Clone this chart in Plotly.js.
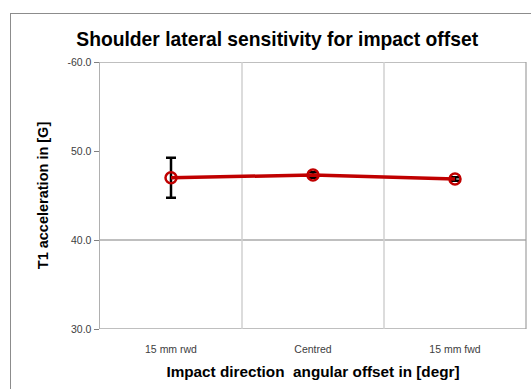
<!DOCTYPE html>
<html><head><meta charset="utf-8">
<script src="https://cdn.plot.ly/plotly-3.0.1.min.js"></script>
<style>
html,body{margin:0;padding:0;background:#fff;overflow:hidden;}
#wrap{position:relative;width:531px;height:389px;}
#chart{position:absolute;left:0;top:0;width:531px;height:389px;}
#frame{position:absolute;left:10px;top:13px;width:540px;height:400px;border:1.5px solid #8c8c8c;pointer-events:none;}
</style></head>
<body>
<div id="wrap"><div id="chart"></div><div id="frame"></div></div>
<script>
const categories = ["15 mm rwd", "Centred", "15 mm fwd"];
const values = [47.0, 47.3, 46.85];
const errors = [2.25, 0.3, 0.2];
const yTickVals = [30, 40, 50, 60];
const yTickText = ["30.0", "40.0", "50.0", "-60.0"];

const xIdx = categories.map((c, i) => i);
const trace = {
  x: xIdx, y: values, type: 'scatter', mode: 'lines+markers',
  line: {color: '#C00000', width: 3.5},
  marker: {symbol: 'circle-open', size: 11, color: '#C00000', line: {width: 2.5, color: '#C00000'}},
  error_y: {type: 'data', array: errors, visible: true, color: '#000000', thickness: 2.5, width: 5},
  hoverinfo: 'none', showlegend: false
};
const tickFont = {family: 'Liberation Sans, Arial, sans-serif', size: 10.5, color: '#404040'};
const layout = {
  width: 531, height: 389,
  margin: {l: 100, r: 5, t: 62, b: 60},
  paper_bgcolor: 'rgba(0,0,0,0)', plot_bgcolor: '#fff',
  title: {text: '<b>Shoulder lateral sensitivity for impact offset</b>', x: 0.522, xanchor: 'center', y: 0.9, yanchor: 'middle',
          font: {family: 'Liberation Sans, Arial, sans-serif', size: 19.3, color: '#000'}},
  xaxis: {range: [-0.5, 2.5], tickvals: xIdx, ticktext: categories, showgrid: false, zeroline: false,
          showline: false, ticks: 'outside', ticklen: 10, tickcolor: 'rgba(0,0,0,0)', tickfont: tickFont, fixedrange: true,
          title: {text: '<b>Impact direction  angular offset in [degr]</b>', standoff: 12,
                  font: {family: 'Liberation Sans, Arial, sans-serif', size: 15.3, color: '#000'}}},
  yaxis: {range: [30, 60], tickvals: yTickVals, ticktext: yTickText, showgrid: false, zeroline: false,
          showline: true, linecolor: '#b0b0b0', linewidth: 1.5, ticks: 'outside', ticklen: 5, tickcolor: '#808080',
          tickfont: tickFont, fixedrange: true,
          title: {text: '<b>T1 acceleration in [G]</b>', standoff: 15,
                  font: {family: 'Liberation Sans, Arial, sans-serif', size: 14.5, color: '#000'}}},
  shapes: [
    {type: 'line', xref: 'paper', yref: 'y', x0: 0, x1: 1, y0: 40, y1: 40, line: {color: '#808080', width: 1.2}, layer: 'below'},
    {type: 'line', xref: 'paper', yref: 'y', x0: 0, x1: 1, y0: 60, y1: 60, line: {color: '#808080', width: 1.2}, layer: 'below'},
    {type: 'line', xref: 'paper', yref: 'y', x0: 0, x1: 1, y0: 30, y1: 30, line: {color: '#808080', width: 1.2}, layer: 'below'},
    {type: 'line', xref: 'paper', yref: 'paper', x0: 1, x1: 1, y0: 0, y1: 1, line: {color: '#a0a0a0', width: 1.2}, layer: 'below'},
    {type: 'line', xref: 'x', yref: 'paper', x0: 0.5, x1: 0.5, y0: 0, y1: 1, line: {color: '#d0d0d0', width: 1.5}, layer: 'below'},
    {type: 'line', xref: 'x', yref: 'paper', x0: 1.5, x1: 1.5, y0: 0, y1: 1, line: {color: '#d0d0d0', width: 1.5}, layer: 'below'}
  ]
};
Plotly.newPlot('chart', [trace], layout, {staticPlot: true});
</script>
</body></html>
